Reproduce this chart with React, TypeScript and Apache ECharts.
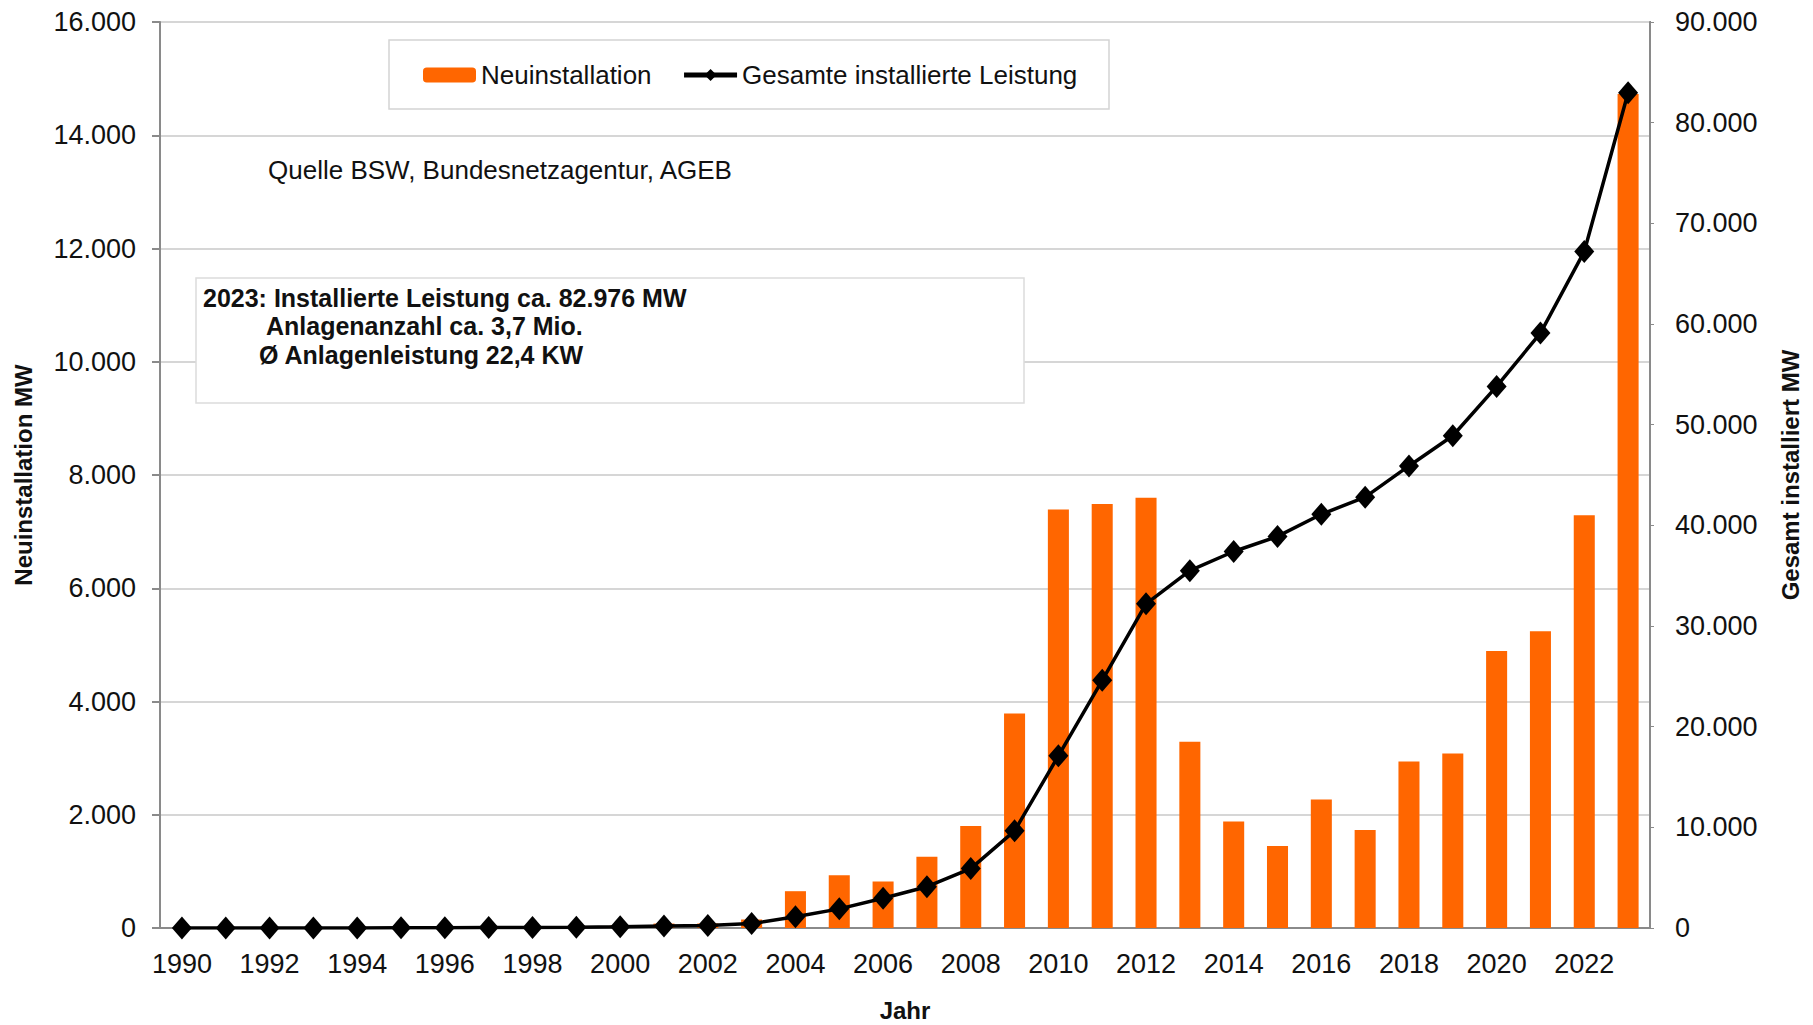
import React, { useEffect, useRef } from "react";
import * as echarts from "echarts";

const years: string[] = [
  "1990", "1991", "1992", "1993", "1994", "1995", "1996", "1997", "1998", "1999",
  "2000", "2001", "2002", "2003", "2004", "2005", "2006", "2007", "2008", "2009",
  "2010", "2011", "2012", "2013", "2014", "2015", "2016", "2017", "2018", "2019",
  "2020", "2021", "2022", "2023",
];

// Neuinstallation (MW) – left axis
const neuinstallation: number[] = [
  1, 1, 3, 3, 3, 7, 12, 12, 12, 12,
  44, 78, 80, 150, 650, 930, 820, 1260, 1800, 3790,
  7390, 7490, 7600, 3290, 1880, 1450, 2270, 1730, 2940, 3080,
  4890, 5240, 7290, 14730,
];

// Gesamte installierte Leistung (MW) – right axis
const gesamt: number[] = [
  2, 3, 6, 9, 12, 18, 28, 42, 54, 70,
  114, 195, 260, 435, 1120, 1900, 2950, 4100, 5900, 9650,
  17100, 24600, 32200, 35500, 37400, 38900, 41100, 42800, 45900, 48900,
  53800, 59100, 67200, 82976,
];

const seriesNames: string[] = ["Neuinstallation", "Gesamte installierte Leistung"];
const axisTitles = { left: "Neuinstallation MW", right: "Gesamt installiert MW", bottom: "Jahr" };
const sourceText = "Quelle BSW, Bundesnetzagentur, AGEB";
const infoLines: string[] = [
  "2023: Installierte Leistung ca. 82.976 MW",
  "Anlagenanzahl ca. 3,7 Mio.",
  "Ø Anlagenleistung 22,4 KW",
];

const FONT = "'Liberation Sans', Arial, Helvetica, sans-serif";
const fmt = (v: number) => String(v).replace(/\B(?=(\d{3})+(?!\d))/g, ".");

export default function App() {
  const ref = useRef<HTMLDivElement>(null);

  useEffect(() => {
    document.body.style.margin = "0";
    if (!ref.current) return;
    const chart = echarts.init(ref.current, undefined, { renderer: "svg" });

    const option: any = {
      animation: false,
      backgroundColor: "#ffffff",
      textStyle: { fontFamily: FONT },
      grid: {
        left: 160,
        right: 163,
        top: 22,
        bottom: 97,
        outerBoundsMode: "none",
        containLabel: false,
        show: true,
        borderColor: "#8a8a8a",
        borderWidth: 2,
        backgroundColor: "transparent",
      },
      legend: {
        data: [
          { name: seriesNames[0] },
          { name: seriesNames[1], lineStyle: { width: 5, color: "#000" } },
        ],
        left: 423,
        top: 62,
        padding: 0,
        itemWidth: 53,
        itemHeight: 15,
        itemGap: 30,
        textStyle: { fontSize: 26, color: "#111", fontFamily: FONT },
      },
      xAxis: {
        type: "category",
        data: years,
        boundaryGap: true,
        name: axisTitles.bottom,
        nameLocation: "middle",
        nameGap: 70,
        nameTextStyle: { fontSize: 24, fontWeight: "bold", color: "#111", fontFamily: FONT },
        axisLine: { show: true, lineStyle: { color: "#8a8a8a", width: 2 } },
        axisTick: { show: false },
        axisLabel: { interval: 1, fontSize: 27, color: "#111", margin: 22, fontFamily: FONT },
        splitLine: { show: false },
      },
      yAxis: [
        {
          type: "value",
          min: 0,
          max: 16000,
          interval: 2000,
          name: axisTitles.left,
          nameLocation: "middle",
          nameGap: 125,
          nameRotate: 90,
          nameTextStyle: { fontSize: 24, fontWeight: "bold", color: "#111", fontFamily: FONT },
          axisLine: { show: true, lineStyle: { color: "#8a8a8a", width: 2 } },
          axisTick: { show: true, inside: false, length: 8, lineStyle: { color: "#8a8a8a", width: 2 } },
          axisLabel: { fontSize: 27, color: "#111", margin: 24, formatter: fmt, fontFamily: FONT },
          splitLine: { show: true, lineStyle: { color: "#d6d6d6", width: 2 } },
        },
        {
          type: "value",
          min: 0,
          max: 90000,
          interval: 10000,
          position: "right",
          name: axisTitles.right,
          nameLocation: "middle",
          nameGap: 128,
          nameRotate: 90,
          nameTextStyle: { fontSize: 24, fontWeight: "bold", color: "#111", fontFamily: FONT },
          axisLine: { show: true, lineStyle: { color: "#8a8a8a", width: 2 } },
          axisTick: { show: true, inside: false, length: 4, lineStyle: { color: "#8a8a8a", width: 1 } },
          axisLabel: { fontSize: 27, color: "#111", margin: 25, formatter: fmt, fontFamily: FONT },
          splitLine: { show: false },
        },
      ],
      graphic: [
        {
          type: "rect",
          shape: { x: 389, y: 40, width: 720, height: 69 },
          style: { fill: "#ffffff", stroke: "#d4d4d4", lineWidth: 1.5 },
          z: 0,
          silent: true,
        },
        {
          type: "text",
          x: 268,
          y: 170,
          style: { text: sourceText, fontSize: 26, fill: "#111", fontFamily: FONT, textVerticalAlign: "middle" },
          z: 5,
        },
        {
          type: "rect",
          shape: { x: 196, y: 278, width: 828, height: 125 },
          style: { fill: "#ffffff", stroke: "#dcdcdc", lineWidth: 1.5 },
          z: 5,
          silent: true,
        },
        {
          type: "text",
          x: 203,
          y: 298,
          style: { text: infoLines[0], fontSize: 25, fontWeight: "bold", fill: "#111", fontFamily: FONT, textVerticalAlign: "middle" },
          z: 6,
        },
        {
          type: "text",
          x: 266,
          y: 326,
          style: { text: infoLines[1], fontSize: 25, fontWeight: "bold", fill: "#111", fontFamily: FONT, textVerticalAlign: "middle" },
          z: 6,
        },
        {
          type: "text",
          x: 259,
          y: 355,
          style: { text: infoLines[2], fontSize: 25, fontWeight: "bold", fill: "#111", fontFamily: FONT, textVerticalAlign: "middle" },
          z: 6,
        },
      ],
      series: [
        {
          name: seriesNames[0],
          type: "bar",
          yAxisIndex: 0,
          data: neuinstallation,
          barWidth: "48%",
          itemStyle: { color: "#ff6600" },
          z: 2,
        },
        {
          name: seriesNames[1],
          type: "line",
          yAxisIndex: 1,
          data: gesamt,
          symbol: "diamond",
          symbolSize: [20, 23],
          showAllSymbol: true,
          lineStyle: { color: "#000", width: 3.5 },
          itemStyle: { color: "#000" },
          z: 3,
        },
      ],
    };

    chart.setOption(option);
    return () => chart.dispose();
  }, []);

  return <div ref={ref} style={{ width: 1813, height: 1025 }} />;
}
